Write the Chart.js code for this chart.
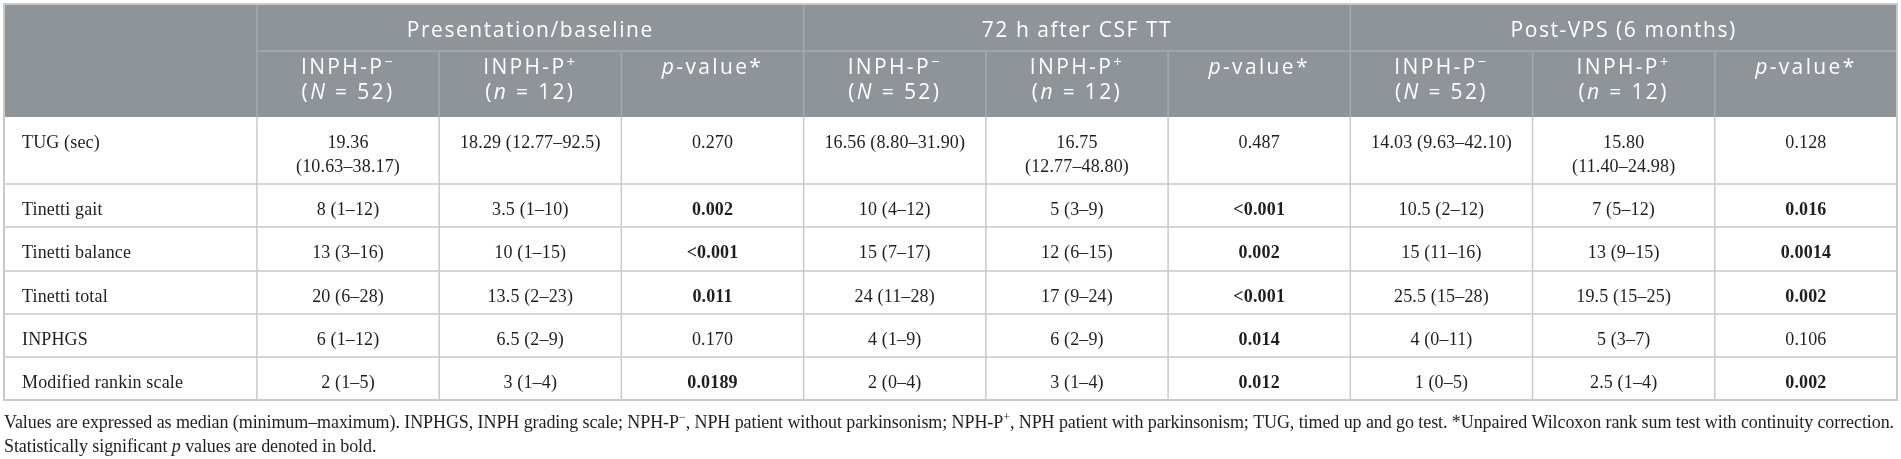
<!DOCTYPE html>
<html>
<head>
<meta charset="utf-8">
<title>INPH gait and balance table</title>
<script src="https://cdn.jsdelivr.net/npm/chart.js@4"></script>
<style>
  html, body { margin: 0; padding: 0; background: #fff; }
  canvas { display: block; }
</style>
</head>
<body>
<canvas id="tbl" width="1901" height="459"></canvas>
<script>
/* ---- dados da tabela ---- */
const groups = ['Presentation/baseline', '72 h after CSF TT', 'Post-VPS (6 months)'];
// marcação: _itálico_  ^sobrescrito^
const subLabels = ['INPH-P^−^', 'INPH-P^+^', '_p_-value*'];
const subCounts = ['(_N_ = 52)', '(_n_ = 12)', ''];
const rowLabels = ['TUG (sec)', 'Tinetti gait', 'Tinetti balance', 'Tinetti total', 'INPHGS', 'Modified rankin scale'];

const baselineNeg = ['19.36\n(10.63–38.17)', '8 (1–12)', '13 (3–16)', '20 (6–28)', '6 (1–12)', '2 (1–5)'];
const baselinePos = ['18.29 (12.77–92.5)', '3.5 (1–10)', '10 (1–15)', '13.5 (2–23)', '6.5 (2–9)', '3 (1–4)'];
const baselineP   = ['0.270', '0.002', '<0.001', '0.011', '0.170', '0.0189'];

const ttNeg = ['16.56 (8.80–31.90)', '10 (4–12)', '15 (7–17)', '24 (11–28)', '4 (1–9)', '2 (0–4)'];
const ttPos = ['16.75\n(12.77–48.80)', '5 (3–9)', '12 (6–15)', '17 (9–24)', '6 (2–9)', '3 (1–4)'];
const ttP   = ['0.487', '<0.001', '0.002', '<0.001', '0.014', '0.012'];

const vpsNeg = ['14.03 (9.63–42.10)', '10.5 (2–12)', '15 (11–16)', '25.5 (15–28)', '4 (0–11)', '1 (0–5)'];
const vpsPos = ['15.80\n(11.40–24.98)', '7 (5–12)', '13 (9–15)', '19.5 (15–25)', '5 (3–7)', '2.5 (1–4)'];
const vpsP   = ['0.128', '0.016', '0.0014', '0.002', '0.106', '0.002'];

const notes = [
  'Values are expressed as median (minimum–maximum). INPHGS, INPH grading scale; NPH-P^−^, NPH patient without parkinsonism; NPH-P^+^, NPH patient with parkinsonism; TUG, timed up and go test. *Unpaired Wilcoxon rank sum test with continuity correction.',
  'Statistically significant _p_ values are denoted in bold.'
];

const columns = [baselineNeg, baselinePos, baselineP, ttNeg, ttPos, ttP, vpsNeg, vpsPos, vpsP];
const isPCol = c => c % 3 === 2;
const isSignificant = s => parseFloat(s.replace('<', '')) < 0.05;

/* ---- layout (unidades das escalas) ---- */
const FIRST_COL = 1.388;                       // largura da coluna de rótulos, em colunas
const ROW_H = [47, 66, 67, 43, 44, 43, 43, 43]; // 2 linhas de cabeçalho + 6 linhas
const xEdge = i => i === 0 ? 0 : FIRST_COL + (i - 1);
const yEdge = r => ROW_H.slice(0, r).reduce((s, v) => s + v, 0);

const BODY = { family: '"Liberation Serif", "Times New Roman", serif', size: 18, supSize: 12, supRise: 7, spacing: 0.15, weight: '', color: '#1e1e1e' };
const HEAD = { family: '"Open Sans", sans-serif', size: 21, supSize: 15, supRise: 7, spacing: 1.4, weight: '400', color: '#ffffff' };
const HEAD_TITLE_W = 247;   // largura de "Presentation/baseline" na figura (px)
const HEAD_BG = '#8e9497';
const HEAD_LINE = '#a6abae';
const BODY_LINE = '#c9c9c9';

/* texto rico simples */
function parseRich(str, bold) {
  const segs = [];
  let cur = { t: '', i: false, sup: false, b: !!bold };
  for (const ch of str) {
    if (ch === '_' || ch === '^') {
      if (cur.t) segs.push(cur);
      cur = { t: '', i: ch === '_' ? !cur.i : cur.i, sup: ch === '^' ? !cur.sup : cur.sup, b: cur.b };
    } else cur.t += ch;
  }
  if (cur.t) segs.push(cur);
  return segs;
}

function setFont(ctx, seg, st, spacing) {
  ctx.font = `${seg.i ? 'italic ' : ''}${seg.b ? 'bold ' : (st.weight || '')} ${seg.sup ? st.supSize : st.size}px ${st.family}`;
  if ('letterSpacing' in ctx) ctx.letterSpacing = (spacing ?? st.spacing) + 'px';
}

function richWidth(ctx, segs, st, spacing) {
  return segs.reduce((s, seg) => { setFont(ctx, seg, st, spacing); return s + ctx.measureText(seg.t).width; }, 0);
}

function drawRich(ctx, segs, x, y, align, st, spacing) {
  const total = richWidth(ctx, segs, st, spacing);
  let cx = align === 'center' ? x - total / 2 : x;
  ctx.textAlign = 'left';
  ctx.textBaseline = 'alphabetic';
  ctx.fillStyle = st.color;
  segs.forEach(seg => {
    setFont(ctx, seg, st, spacing);
    ctx.fillText(seg.t, cx, y - (seg.sup ? st.supRise : 0));
    cx += ctx.measureText(seg.t).width;
  });
}

function line(ctx, x1, y1, x2, y2) {
  ctx.beginPath(); ctx.moveTo(x1, y1); ctx.lineTo(x2, y2); ctx.stroke();
}

/* plugin que desenha a tabela usando as escalas do Chart.js */
const tablePlugin = {
  id: 'tableDraw',
  afterDraw(chart) {
    const { ctx, scales: { x, y } } = chart;
    const px = v => x.getPixelForValue(v);
    const py = v => y.getPixelForValue(v);
    const nCols = columns.length + 1;
    ctx.save();

    // fundo do cabeçalho
    ctx.fillStyle = HEAD_BG;
    ctx.fillRect(px(0), py(0), px(xEdge(nCols)) - px(0), py(yEdge(2)) - py(0));

    // linhas do cabeçalho
    ctx.strokeStyle = HEAD_LINE;
    ctx.lineWidth = 1.5;
    line(ctx, px(xEdge(1)), py(yEdge(1)), px(xEdge(nCols)), py(yEdge(1)));
    for (let c = 1; c < nCols; c++) {
      const top = (c - 1) % 3 === 0 ? yEdge(0) : yEdge(1);
      line(ctx, px(xEdge(c)), py(top), px(xEdge(c)), py(yEdge(2)));
    }

    // linhas do corpo
    ctx.strokeStyle = BODY_LINE;
    for (let r = 3; r < ROW_H.length; r++) line(ctx, px(0), py(yEdge(r)), px(xEdge(nCols)), py(yEdge(r)));
    for (let c = 1; c < nCols; c++) line(ctx, px(xEdge(c)), py(yEdge(2)), px(xEdge(c)), py(yEdge(ROW_H.length)));
    ctx.lineWidth = 2;
    ctx.strokeRect(px(0), py(0), px(xEdge(nCols)) - px(0), py(yEdge(ROW_H.length)) - py(0));

    // espaçamento das letras do cabeçalho ajustado à largura do título
    const g0 = parseRich(groups[0]);
    const hs = (HEAD_TITLE_W - richWidth(ctx, g0, HEAD, 0)) / groups[0].length;

    // cabeçalho linha 1: grupos
    groups.forEach((g, k) => {
      const cx = (px(xEdge(1 + 3 * k)) + px(xEdge(4 + 3 * k))) / 2;
      drawRich(ctx, parseRich(g), cx, py(yEdge(0)) + 33, 'center', HEAD, hs);
    });

    // cabeçalho linha 2: subgrupos (um pouco mais largos na figura)
    const hs2 = hs + 0.8;
    columns.forEach((col, c) => {
      const cx = (px(xEdge(c + 1)) + px(xEdge(c + 2))) / 2;
      const k = c % 3;
      drawRich(ctx, parseRich(subLabels[k]), cx, py(yEdge(1)) + 23, 'center', HEAD, hs2);
      if (subCounts[k]) drawRich(ctx, parseRich(subCounts[k]), cx, py(yEdge(1)) + 48, 'center', HEAD, hs2);
    });

    // corpo
    rowLabels.forEach((lab, r) => {
      const top = py(yEdge(r + 2));
      drawRich(ctx, parseRich(lab), px(0) + 18, top + 31, 'left', BODY);
      columns.forEach((col, c) => {
        const cx = (px(xEdge(c + 1)) + px(xEdge(c + 2))) / 2;
        const bold = isPCol(c) && isSignificant(col[r]);
        col[r].split('\n').forEach((ln, j) => {
          drawRich(ctx, parseRich(ln, bold), cx, top + 31 + j * 23.5, 'center', BODY);
        });
      });
    });

    // notas de rodapé (espaçamento ajustado para a largura da tabela)
    const left = px(0);
    const target = px(xEdge(nCols)) - left - 3;
    const segs0 = parseRich(notes[0]);
    const natural = richWidth(ctx, segs0, BODY, 0);
    const nChars = segs0.reduce((s, g) => s + g.t.length, 0);
    const sp = (target - natural) / nChars;
    const bottom = py(yEdge(ROW_H.length));
    notes.forEach((n, j) => drawRich(ctx, parseRich(n), left, bottom + 28 + j * 23.5, 'left', BODY, sp));

    ctx.restore();
  }
};

new Chart(document.getElementById('tbl'), {
  type: 'scatter',
  data: { datasets: [{ data: [] }] },
  options: {
    responsive: false,
    animation: false,
    events: [],
    layout: { padding: { left: 4, right: 4, top: 4, bottom: 59 } },
    scales: {
      x: { type: 'linear', min: 0, max: xEdge(columns.length + 1), display: false },
      y: { type: 'linear', min: 0, max: yEdge(ROW_H.length), reverse: true, display: false }
    },
    plugins: { legend: { display: false }, tooltip: { enabled: false } }
  },
  plugins: [tablePlugin]
});
</script>
</body>
</html>
